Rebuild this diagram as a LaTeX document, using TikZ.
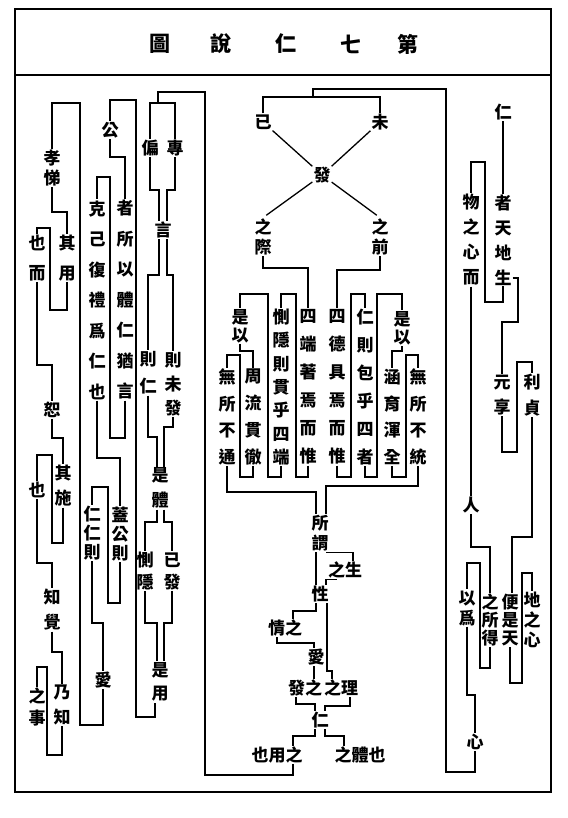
\documentclass[tikz,border=0pt]{standalone}
\usepackage{fontspec}
\newfontfamily\zh{Noto Sans CJK TC}
\tikzset{
  v/.style  ={font=\zh\bfseries\fontsize{17}{#1}\selectfont,align=center,inner sep=0.5pt},
  v/.default=27,
  h/.style  ={font=\zh\bfseries\fontsize{17}{18}\selectfont,inner sep=0.5pt},
  ttl/.style={font=\zh\bfseries\fontsize{21}{24}\selectfont},
  ln/.style ={line width=1.3pt},
}
\begin{document}
\begin{tikzpicture}[x=1pt,y=-1pt,ln]
  \useasboundingbox (0,0) rectangle (567,818);
  \draw[line width=1.4pt] (15,9) rectangle (551,792);
  \draw[line width=1.4pt] (15,75) -- (551,75);
  % title
  \node[ttl] (t1) at (160,44){圖};
  \node[ttl] (t2) at (221,44){說};
  \node[ttl] (t3) at (286,44){仁};
  \node[ttl] (t4) at (351,44){七};
  \node[ttl] (t5) at (408,44){第};

  % left columns
  \node[v=20] (xiaoti) at (52,168){孝\\悌};
  \node[v=30] (qiyong) at (67,258){其\\用};
  \node[v=30] (yeer)   at (37,258){也\\而};
  \node[v]    (shu)    at (52,410){恕};
  \node[v=25] (qishi)  at (63,486){其\\施};
  \node[v]    (yeB)    at (37,490){也};
  \node[v=25] (zhijue) at (52,610){知\\覺};
  \node[v=25] (naizhi) at (62,705){乃\\知};
  \node[v=22] (zhishi) at (37,707){之\\事};
  \node[v]    (gong)   at (110,130){公};
  \node[v=30.5] (zhesuo) at (125,300){者\\所\\以\\體\\仁\\猶\\言};
  \node[v=30.5] (keji)   at (97,300){克\\己\\復\\禮\\爲\\仁\\也};
  \node[v=19] (gaigong)  at (120,534){蓋\\公\\則};
  \node[v=19] (renrenze) at (92,533){仁\\仁\\則};
  \node[v]    (ai)     at (103,680){愛};
  \node[v]    (pian)   at (150,148){偏};
  \node[v]    (zhuan)  at (175,148){專};
  \node[v]    (yan)    at (163,230){言};
  \node[v=27] (zeren)  at (148,373){則\\仁};
  \node[v=24] (zeweifa) at (173,384){則\\未\\發};
  \node[v=25] (shiti)  at (160,488){是\\體};
  \node[v=22] (ceyin)  at (145,571){惻\\隱};
  \node[v=22] (yifa)   at (172,571){已\\發};
  \node[v=23] (shiyong) at (160,682){是\\用};

  \draw (ai.south) |- (80,725) -- (80,103) -| (xiaoti.north);
  \draw (xiaoti.south) |- (67,212) -- (qiyong.north);
  \draw (qiyong.south) |- (50,310) -- (50,228) -| (yeer.north);
  \draw (yeer.south) |- (52,365) -- (shu.north);
  \draw (shu.south) |- (63,438) -- (qishi.north);
  \draw (qishi.south) |- (52,543) -- (52,455) -| (yeB.north);
  \draw (yeB.south) |- (52,563) -- (zhijue.north);
  \draw (zhijue.south) |- (62,652) -- (naizhi.north);
  \draw (naizhi.south) |- (47,755) -- (47,667) -| (zhishi.north);
  \draw (gong.north) |- (136,100) -- (136,717) -| (shiyong.south -| 155,0);
  \draw (gong.south) |- (125,157) -- (zhesuo.north);
  \draw (zhesuo.south) |- (110,438) -- (110,177) -| (keji.north);
  \draw (keji.south) |- (120,458) -- (gaigong.north);
  \draw (gaigong.south) |- (108,603) -- (108,487) -| (renrenze.north);
  \draw (renrenze.south) |- (103,623) -- (ai.north);
  \draw (pian.north) |- (zhuan.north |- 0,103) -- (zhuan.north);
  \draw (158,103) |- (205,92) -- (205,775) -| (293,764);
  \draw (pian.south) |- (159,190) -- (yan.north -| 159,0);
  \draw (zhuan.south) |- (167,190) -- (yan.north -| 167,0);
  \draw (yan.south -| 159,0) |- (148,275) -- (zeren.north);
  \draw (yan.south -| 167,0) |- (173,275) -- (zeweifa.north);
  \draw (zeren.south) |- (157,437) -- (shiti.north -| 157,0);
  \draw (zeweifa.south) |- (164,427) -- (shiti.north -| 164,0);
  \draw (shiti.south -| 157,0) |- (145,522) -- (ceyin.north);
  \draw (shiti.south -| 164,0) |- (172,522) -- (yifa.north);
  \draw (ceyin.south) |- (157,623) -- (shiyong.north -| 157,0);
  \draw (yifa.south) |- (164,623) -- (shiyong.north -| 164,0);

  % middle
  \node[v] (yi)  at (263,122){已};
  \node[v] (wei) at (380,122){未};
  \node[v] (fa)  at (322,175){發};
  \node[v=20] (zhiji)   at (263,237){之\\際};
  \node[v=20] (zhiqian) at (380,237){之\\前};
  \node[v=18] (shiyiL)  at (240,326){是\\以};
  \node[v=18] (shiyiR)  at (402,328){是\\以};
  \node[v=26.7] (wusuoT)  at (227,417){無\\所\\不\\通};
  \node[v=26.7] (zhouliu) at (253,417){周\\流\\貫\\徹};
  \node[v=26.7] (hanyu)   at (392,417){涵\\育\\渾\\全};
  \node[v=26.7] (wusuoG)  at (418,417){無\\所\\不\\統};
  \node[v=23.3] (ceyinze) at (281,387){惻\\隱\\則\\貫\\乎\\四\\端};
  \node[v=28] (duanzhu) at (308,387){四\\端\\著\\焉\\而\\惟};
  \node[v=28] (dejiu)   at (337,387){四\\德\\具\\焉\\而\\惟};
  \node[v=28] (renze)   at (365,387){仁\\則\\包\\乎\\四\\者};
  \node[v=20] (suowei)  at (320,533){所\\謂};
  \node[h] (zhisheng) at (345,570){之生};
  \node[v] (xing)     at (320,594){性};
  \node[h] (qingzhi)  at (285,628){情之};
  \node[v] (aiM)      at (316,657){愛};
  \node[h] (fazhi)    at (305,688){發之};
  \node[h] (zhili)    at (341,688){之理};
  \node[v] (renM)     at (320,720){仁};
  \node[h] (yongzhi)  at (277,755){也用之};
  \node[h] (tizhi)    at (360,755){之體也};

  \draw (yi.north) |- (wei.north |- 0,97) -- (wei.north);
  \draw (313,97) |- (446,89) -- (446,772) -| (475,751);
  \draw (yi) -- (fa);
  \draw (wei) -- (fa);
  \draw[shorten >=4pt] (fa) -- (zhiji.north);
  \draw[shorten >=4pt] (fa) -- (zhiqian.north);
  \draw (zhiji.south) |- (308,268) -- (duanzhu.north);
  \draw (zhiqian.south) |- (337,270) -- (dejiu.north);
  \draw (duanzhu.south) |- (296,477) -- (296,294) -| (ceyinze.north);
  \draw (ceyinze.south) |- (268,477) -- (268,294) -| (shiyiL.north);
  \draw (shiyiL.south) |- (253,351) -- (zhouliu.north);
  \draw (zhouliu.south) |- (240,477) -- (240,355) -| (wusuoT.north);
  \draw (wusuoT.south) |- (316,492) -- (suowei.north -| 316,0);
  \draw (dejiu.south) |- (351,477) -- (351,294) -| (renze.north);
  \draw (renze.south) |- (377,477) -- (377,294) -| (shiyiR.north);
  \draw (shiyiR.south) |- (392,351) -- (hanyu.north);
  \draw (hanyu.south) |- (406,477) -- (406,355) -| (wusuoG.north);
  \draw (wusuoG.south) |- (326,486) -- (suowei.north -| 326,0);
  \draw (suowei.south -| 316,0) -- (xing.north -| 316,0);
  \draw (suowei.south -| 326,0) -| (zhisheng.north -| 353,0);
  \draw (zhisheng.south -| 337,0) -| (xing.north -| 326,0);
  \draw (xing.south -| 316,0) |- (293,611) -- (qingzhi.north -| 293,0);
  \draw (xing.south -| 327,0) -- (327,671) -| (zhili.north -| 332,0);
  \draw (qingzhi.south -| 277,0) |- (314,643) -- (aiM.north -| 314,0);
  \draw (aiM.south -| 314,0) -- (fazhi.north -| 314,0);
  \draw (fazhi.south -| 296,0) |- (315,704) -- (renM.north -| 315,0);
  \draw (zhili.south -| 350,0) |- (325,706) -- (renM.north -| 325,0);
  \draw (renM.south -| 315,0) |- (293,736) -- (yongzhi.north -| 293,0);
  \draw (renM.south -| 325,0) |- (344,736) -- (tizhi.north -| 344,0);

  % right column
  \node[v]    (renR)     at (503,112){仁};
  \node[v=25] (zhetian)  at (503,240){者\\天\\地\\生};
  \node[v=25] (wuzhi)    at (471,240){物\\之\\心\\而};
  \node[v=25] (yuanheng) at (502,395){元\\享};
  \node[v=26] (lizhen)   at (532,395){利\\貞};
  \node[v]    (renP)     at (471,505){人};
  \node[v=20] (yiwei)    at (467,608){以\\爲};
  \node[v=18] (zhisuo)   at (490,620){之\\所\\得};
  \node[v=18] (bianshi)  at (510,620){便\\是\\天};
  \node[v=20] (dizhi)    at (532,620){地\\之\\心};
  \node[v]    (xinR)     at (475,742){心};

  \draw (renR) -- (zhetian);
  \draw (zhetian.south) |- (485,302) -- (485,162) -| (wuzhi.north);
  \draw (zhetian.east |- 0,278) -| (518,322) -| (yuanheng.north);
  \draw (yuanheng.south) |- (517,452) -- (517,362) -| (lizhen.north);
  \draw (lizhen.south) |- (512,537) -- (bianshi.north -| 512,0);
  \draw (wuzhi.south) -- (renP.north);
  \draw (renP.south) |- (490,547) -- (zhisuo.north);
  \draw (zhisuo.south) |- (480,668) -- (480,563) -| (yiwei.north);
  \draw (yiwei.south) |- (475,695) -- (xinR.north);
  \draw (bianshi.south) |- (522,683) -- (522,573) -| (dizhi.north);
\end{tikzpicture}
\end{document}
